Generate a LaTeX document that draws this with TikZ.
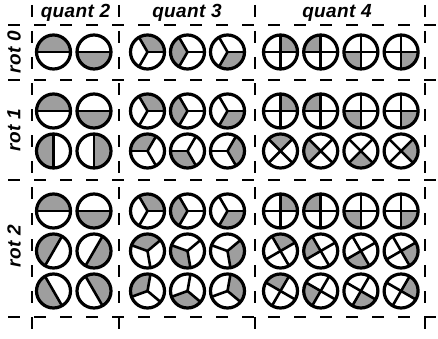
\documentclass[tikz,border=0pt]{standalone}
\usepackage{fontspec}
\newfontfamily\lblfont{Liberation Sans}[LetterSpace=2]
\definecolor{sectgray}{RGB}{158,158,158}
\tikzset{
  grid/.style={line width=2pt, dash pattern=on 12pt off 14pt},
  ring/.style={line width=3.2pt, draw=black},
  spoke/.style={line width=2.6pt, line cap=round},
  hdr/.style={font=\lblfont\bfseries\itshape\fontsize{19}{21}\selectfont, inner sep=0pt},
}
\newcommand\drawsym[5]{%
  \pgfmathsetmacro\gs{#4+#5*360/#3}%
  \pgfmathsetmacro\ge{\gs+360/#3}%
  \fill[sectgray] (#1,#2) -- ++(\gs:17pt) arc[start angle=\gs, end angle=\ge, radius=17pt] -- cycle;
  \foreach \j in {1,...,#3} {\draw[spoke] (#1,#2) -- ++({#4+\j*360/#3}:17pt);}
  \draw[ring] (#1,#2) circle[radius=17pt];
}
\begin{document}
\begin{tikzpicture}[x=1pt,y=1pt]
\useasboundingbox (0,0) rectangle (438,338);
% grid lines
\foreach \yy in {313,258,158,21} {\draw[grid] (8,\yy) -- (438,\yy);}
\foreach \xx in {32,119,255,425} {\draw[grid] (\xx,333) -- (\xx,0);}
% headers
\node[hdr] (q2) at (75.5,325) {quant 2};
\node[hdr] (q3) at (187,325) {quant 3};
\node[hdr] (q4) at (337,325) {quant 4};
\node[hdr, rotate=90] (r0) at (14,286) {rot 0};
\node[hdr, rotate=90] (r1) at (14,208) {rot 1};
\node[hdr, rotate=90] (r2) at (14,92) {rot 2};
% symbols
\foreach \q/\xs/\dx in {2/53.5/40.5, 3/147.5/40, 4/280.5/40.2} {
  \pgfmathtruncatemacro\nc{\q-1}
  \foreach \c in {0,...,\nc} {
    \pgfmathsetmacro\xx{\xs+\c*\dx}
    \drawsym{\xx}{286}{\q}{0}{\c}
    \drawsym{\xx}{227}{\q}{0}{\c}
    \drawsym{\xx}{187}{\q}{180/\q}{\c}
    \drawsym{\xx}{127}{\q}{0}{\c}
    \drawsym{\xx}{87}{\q}{120/\q}{\c}
    \drawsym{\xx}{47}{\q}{240/\q}{\c}
  }
}
\end{tikzpicture}
\end{document}
